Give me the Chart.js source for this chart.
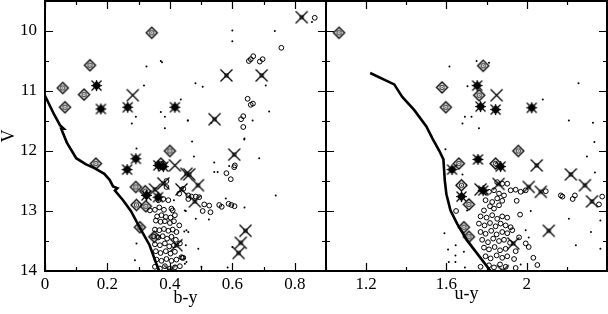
<!DOCTYPE html>
<html>
<head>
<meta charset="utf-8">
<script src="https://cdn.jsdelivr.net/npm/chart.js@4/dist/chart.umd.min.js"></script>
<style>
  html, body { margin: 0; padding: 0; background: #fff; }
  #wrap { position: relative; width: 608px; height: 314px; }
  #wrap canvas { position: absolute; top: 0; }
</style>
</head>
<body>
<div id="wrap">
  <canvas id="left" width="327" height="314" style="left:0"></canvas>
  <canvas id="right" width="292" height="314" style="left:316px"></canvas>
</div>
<script>
// ---- left panel: b-y vs V ----
const byCurve = [[0,11.08],[0.03,11.4],[0.048,11.57],[0.06,11.63],[0.052,11.63],[0.07,11.86],[0.1,12.12],[0.13,12.22],[0.16,12.29],[0.19,12.38],[0.207,12.48],[0.218,12.59],[0.232,12.62],[0.224,12.66],[0.25,12.82],[0.275,13.0],[0.304,13.28],[0.335,13.57],[0.356,13.87],[0.366,14.0]];

const byDiamonds = [[0.342,10.03],[0.144,10.57],[0.057,10.95],[0.125,11.06],[0.064,11.27],[0.163,12.21],[0.4,12.0],[0.291,12.6],[0.321,12.67],[0.293,12.9],[0.323,12.92],[0.304,13.27],[0.35,13.43],[0.371,12.21]];

const byStars = [[0.165,10.91],[0.179,11.3],[0.265,11.27],[0.416,11.27],[0.291,12.13],[0.263,12.31],[0.363,12.24],[0.379,12.26],[0.325,12.74],[0.362,12.77]];

const byCrossesSq = [[0.822,9.77],[0.581,10.74],[0.694,10.74],[0.543,11.47],[0.606,12.06],[0.462,12.39],[0.49,12.57],[0.48,12.84],[0.642,13.33],[0.627,13.53],[0.62,13.7],[0.453,12.38],[0.379,12.54],[0.352,12.64],[0.437,12.64],[0.421,13.57],[0.4,14.0]];

const byCrosses = [[0.281,11.07],[0.416,12.24]];

const byCircles = [[0.864,9.78],[0.757,10.28],[0.667,10.42],[0.659,10.47],[0.653,10.5],[0.697,10.47],[0.688,10.51],[0.649,11.13],[0.659,11.23],[0.666,11.21],[0.635,11.42],[0.628,11.47],[0.635,11.6],[0.608,12.24],[0.606,12.27],[0.581,12.37],[0.595,12.47],[0.443,12.63],[0.459,12.8],[0.469,12.76],[0.483,12.76],[0.494,12.77],[0.51,12.89],[0.526,12.91],[0.505,13.0],[0.53,13.02],[0.558,12.9],[0.566,12.93],[0.588,12.88],[0.597,12.9],[0.607,12.92],[0.44,13.78],
  [0.389,12.5],[0.389,12.6],[0.336,12.99],[0.43,12.71],[0.459,12.74],[0.409,12.99],
  [0.363,12.82],[0.379,12.8],[0.395,12.82],
  [0.352,12.98],[0.366,12.94],[0.381,12.98],[0.405,12.96],
  [0.359,13.09],[0.373,13.07],[0.387,13.1],[0.402,13.11],[0.416,13.07],
  [0.355,13.16],[0.37,13.18],[0.384,13.17],[0.4,13.2],[0.413,13.17],[0.43,13.24],
  [0.352,13.31],[0.366,13.32],[0.381,13.3],[0.395,13.33],[0.409,13.31],[0.421,13.35],
  [0.347,13.42],[0.363,13.44],[0.377,13.42],[0.391,13.46],[0.405,13.43],[0.419,13.48],
  [0.352,13.555],[0.368,13.57],[0.384,13.54],[0.398,13.59],[0.413,13.57],[0.432,13.54],
  [0.355,13.67],[0.37,13.7],[0.387,13.67],[0.402,13.71],[0.416,13.68],[0.437,13.77],
  [0.357,13.81],[0.373,13.83],[0.389,13.8],[0.405,13.83],[0.421,13.81],[0.443,13.78],
  [0.352,13.93],[0.368,13.96],[0.384,13.92],[0.4,13.96],[0.416,13.94],[0.432,13.92]];

const byDots = [[0.325,10.59],[0.371,10.5],[0.375,10.52],[0.317,10.91],[0.435,11.14],[0.291,11.43],[0.278,11.54],[0.371,11.35],[0.384,11.43],[0.384,11.62],[0.457,11.49],[0.855,9.85],[0.6,9.99],[0.6,10.17],[0.736,10.0],[0.482,10.87],[0.505,10.93],[0.707,10.91],[0.458,11.49],[0.718,11.34],[0.665,11.49],[0.639,11.79],[0.533,11.53],[0.293,11.96],[0.293,13.54],[0.288,13.82],[0.448,12.99],[0.453,13.32],[0.448,13.88],[0.413,12.82],[0.471,11.84],[0.638,11.81],[0.477,12.09],[0.686,12.12],[0.542,12.19],[0.542,12.35],[0.553,12.35],[0.59,12.25],[0.739,12.74],[0.579,12.79],[0.639,12.94],[0.451,13.0],[0.483,13.13],[0.525,13.14],[0.446,13.34],[0.459,13.35],[0.451,13.57],[0.491,13.63],[0.6,13.6],[0.453,13.85],[0.501,13.93],[0.585,13.94]];

// ---- right panel: u-y vs V ----
const uyCurve = [[1.22,10.7],[1.34,10.89],[1.38,11.1],[1.44,11.32],[1.5,11.59],[1.53,11.79],[1.565,12.0],[1.585,12.14],[1.592,12.5],[1.6,12.72],[1.62,12.99],[1.653,13.21],[1.703,13.49],[1.76,13.74],[1.82,14.0]];

const uyDiamonds = [[1.065,10.03],[1.578,10.94],[1.597,11.27],[1.783,10.58],[1.763,11.07],[1.662,12.21],[1.675,12.57],[1.712,12.89],[1.687,13.27],[1.712,13.43],[1.958,12.0],[1.845,12.21]];

const uyStars = [[1.753,10.91],[1.77,11.26],[1.845,11.31],[2.025,11.28],[1.628,12.31],[1.675,12.76],[1.757,12.14],[1.87,12.26],[1.783,12.66]];

const uyCrossesSq = [[2.05,12.24],[2.22,12.39],[2.29,12.57],[2.01,12.6],[2.07,12.68],[2.325,12.84],[1.86,12.55],[2.11,13.33],[1.933,13.54],[1.88,14.0],[1.77,12.64]];

const uyCrosses = [[1.85,11.07]];

const uyCircles = [[2.17,12.74],[2.178,12.76],[2.229,12.8],[2.24,12.74],[2.36,12.89],[2.376,12.76],[2.095,12.67],[1.648,13.0],[1.967,13.06],[1.995,13.54],[2.01,13.6],[2.033,13.78],[2.053,13.9],[1.945,13.67],[1.937,13.8],[1.945,13.95],
  [1.853,12.52],[1.878,12.545],[1.903,12.545],
  [1.812,12.68],[1.837,12.655],[1.862,12.71],[1.887,12.74],[1.92,12.655],[1.945,12.645],[1.97,12.68],[1.995,12.655],
  [1.795,12.82],[1.828,12.85],[1.853,12.79],[1.878,12.83],[1.95,12.83],
  [1.817,12.92],[1.837,12.96],[1.862,12.905],[1.787,12.99],
  [1.77,13.09],[1.8,13.11],[1.828,13.07],[1.853,13.13],[1.878,13.09],[1.903,13.11],
  [1.762,13.21],[1.79,13.24],[1.817,13.2],[1.845,13.255],[1.87,13.21],[1.895,13.24],[1.92,13.27],
  [1.77,13.35],[1.795,13.38],[1.823,13.33],[1.85,13.39],[1.878,13.35],[1.903,13.37],[1.928,13.32],[1.962,13.44],
  [1.778,13.48],[1.807,13.52],[1.833,13.46],[1.862,13.5],[1.887,13.48],[1.917,13.53],
  [1.787,13.61],[1.812,13.64],[1.84,13.6],[1.867,13.655],[1.895,13.63],
  [1.795,13.755],[1.82,13.79],[1.85,13.74],[1.878,13.78],[1.903,13.755],
  [1.812,13.905],[1.837,13.94],[1.867,13.89],[1.895,13.93],[1.77,13.93]];

const uyDots = [[1.615,10.59],[1.705,10.92],[1.692,11.43],[1.68,11.54],[1.75,10.5],[1.812,10.53],[2.258,10.87],[2.08,11.14],[2.21,11.49],[2.33,11.53],[1.725,11.43],[1.762,11.62],[2.4,10.93],[1.595,11.97],[1.68,12.39],[1.703,12.99],[1.59,13.37],[1.608,13.64],[1.646,13.57],[1.645,13.74],[1.687,13.68],[1.612,13.85],[1.645,13.85],[1.692,13.94],[2.337,11.85],[2.3,12.09],[2.34,12.36],[2.02,13.0],[2.21,13.13],[2.367,13.16],[2.32,13.35],[1.995,13.32],[2.01,13.44],[2.245,13.57],[2.367,13.63],[1.97,13.89]];

const yTicks = [10, 11, 12, 13, 14];
const byTickLabels = [0, 0.2, 0.4, 0.6, 0.8];
const uyTickLabels = [1.2, 1.6, 2];

const FONT = '"Liberation Serif", "Times New Roman", serif';

// marker glyphs drawn once onto small canvases
function glyph(draw) {
  const c = document.createElement('canvas');
  c.width = 15; c.height = 15;
  const g = c.getContext('2d');
  g.translate(7.5, 7.5);
  g.strokeStyle = '#000';
  g.fillStyle = '#000';
  draw(g);
  return c;
}
const diamondGlyph = glyph(g => {
  g.lineWidth = 1.4;
  g.beginPath(); g.moveTo(0, -5.5); g.lineTo(5.5, 0); g.lineTo(0, 5.5); g.lineTo(-5.5, 0); g.closePath(); g.stroke();
  g.lineWidth = 1;
  g.beginPath(); g.arc(0, 0, 2.2, 0, Math.PI * 2); g.stroke();
  g.fillRect(-0.5, -0.5, 1, 1);
});
const starGlyph = glyph(g => {
  g.lineWidth = 1.2;
  g.beginPath();
  g.moveTo(-5, -5); g.lineTo(5, 5); g.moveTo(-5, 5); g.lineTo(5, -5);
  g.moveTo(0, -5.5); g.lineTo(0, 5.5); g.moveTo(-5.5, 0); g.lineTo(5.5, 0);
  g.stroke();
  g.beginPath(); g.moveTo(0, -4); g.lineTo(4, 0); g.lineTo(0, 4); g.lineTo(-4, 0); g.closePath(); g.stroke();
  g.beginPath(); g.arc(0, 0, 2.2, 0, Math.PI * 2); g.stroke();
});
const crossSqGlyph = glyph(g => {
  g.lineWidth = 1.3;
  g.beginPath(); g.moveTo(-6, -6); g.lineTo(6, 6); g.moveTo(-6, 6); g.lineTo(6, -6); g.stroke();
  g.lineWidth = 1;
  g.strokeRect(-1.5, -1.5, 3, 3);
});
const crossGlyph = glyph(g => {
  g.lineWidth = 1.3;
  g.beginPath(); g.moveTo(-6, -6); g.lineTo(6, 6); g.moveTo(-6, 6); g.lineTo(6, -6); g.stroke();
});

const pts = arr => arr.map(([x, y]) => ({ x, y }));
const near = (v, list) => list.some(t => Math.abs(t - v) < 1e-6);

function datasets(curve, diamonds, stars, crossesSq, crosses, circles, dots) {
  return [
    { type: 'line', data: pts(curve), borderColor: '#000', borderWidth: 2.6, pointRadius: 0, fill: false, tension: 0 },
    { data: pts(diamonds), pointStyle: diamondGlyph },
    { data: pts(stars), pointStyle: starGlyph },
    { data: pts(crossesSq), pointStyle: crossSqGlyph },
    { data: pts(crosses), pointStyle: crossGlyph },
    { data: pts(circles), pointStyle: 'circle', pointRadius: 2.4, borderColor: '#000', borderWidth: 1, backgroundColor: 'rgba(0,0,0,0)' },
    { data: pts(dots), pointStyle: 'circle', pointRadius: 1, borderWidth: 0, backgroundColor: '#000' }
  ];
}

// frame + inward ticks on all four sides
const frame = {
  id: 'frame',
  afterDraw(chart) {
    const { ctx, chartArea: a, scales: { x, y } } = chart;
    ctx.save();
    ctx.strokeStyle = '#000';
    ctx.lineWidth = 1.2;
    ctx.beginPath();
    x.ticks.forEach(t => {
      const px = Math.round(x.getPixelForValue(t.value)) + 0.5;
      const len = t.major ? 8 : 4;
      ctx.moveTo(px, a.bottom); ctx.lineTo(px, a.bottom - len);
      ctx.moveTo(px, a.top); ctx.lineTo(px, a.top + len);
    });
    y.ticks.forEach(t => {
      const py = Math.round(y.getPixelForValue(t.value)) + 0.5;
      const len = t.major ? 8 : 4;
      ctx.moveTo(a.left, py); ctx.lineTo(a.left + len, py);
      ctx.moveTo(a.right, py); ctx.lineTo(a.right - len, py);
    });
    ctx.stroke();
    ctx.lineWidth = 2;
    ctx.strokeRect(a.left, a.top, a.right - a.left, a.bottom - a.top);
    ctx.restore();
  }
};

function makeChart(id, opts) {
  return new Chart(document.getElementById(id), {
    type: 'scatter',
    data: { datasets: opts.datasets },
    options: {
      responsive: false,
      animation: false,
      events: [],
      layout: { padding: opts.padding, autoPadding: false },
      elements: { point: { radius: 6 } },
      plugins: { legend: { display: false }, tooltip: { enabled: false } },
      scales: {
        x: {
          type: 'linear',
          min: opts.xMin, max: opts.xMax,
          grid: { display: false, drawTicks: false },
          border: { display: false },
          afterFit: s => { s.height = 43; s.paddingLeft = 0; s.paddingRight = 0; },
          afterTickToLabelConversion: s => {
            s.ticks.forEach(t => { t.major = near(t.value, opts.xLabels); t.label = t.major ? String(t.value) : ''; });
          },
          ticks: { stepSize: opts.xStep, autoSkip: false, maxRotation: 0, padding: 3, color: '#000', font: { family: FONT, size: 17 } },
          title: { display: true, text: opts.xTitle, color: '#000', font: { family: FONT, size: 18, lineHeight: 1 }, padding: { top: 0, bottom: opts.xTitlePad } }
        },
        y: {
          type: 'linear',
          reverse: true,
          min: 9.5, max: 14,
          display: opts.showY,
          grid: { display: false, drawTicks: false },
          border: { display: false },
          afterFit: s => { if (opts.showY) s.width = 45; s.paddingTop = 0; s.paddingBottom = 0; },
          afterTickToLabelConversion: s => {
            s.ticks.forEach(t => { t.major = near(t.value, yTicks); t.label = t.major ? String(t.value) : ''; });
          },
          ticks: { stepSize: 0.5, autoSkip: false, padding: 8, color: '#000', font: { family: FONT, size: 17 } },
          title: { display: true, text: 'V', color: '#000', font: { family: FONT, size: 18, lineHeight: 1 }, padding: { top: 0, bottom: 0 } }
        }
      }
    },
    plugins: [frame]
  });
}

makeChart('left', {
  datasets: datasets(byCurve, byDiamonds, byStars, byCrossesSq, byCrosses, byCircles, byDots),
  padding: { top: 1, right: 1, left: 0, bottom: 0 },
  xMin: 0, xMax: 0.9, xStep: 0.1, xLabels: byTickLabels, xTitle: 'b-y', xTitlePad: 7, showY: true
});
makeChart('right', {
  datasets: datasets(uyCurve, uyDiamonds, uyStars, uyCrossesSq, uyCrosses, uyCircles, uyDots),
  padding: { top: 1, right: 1, left: 10, bottom: 0 },
  xMin: 1.0, xMax: 2.4, xStep: 0.2, xLabels: uyTickLabels, xTitle: 'u-y', xTitlePad: 11, showY: false
});
</script>
</body>
</html>
